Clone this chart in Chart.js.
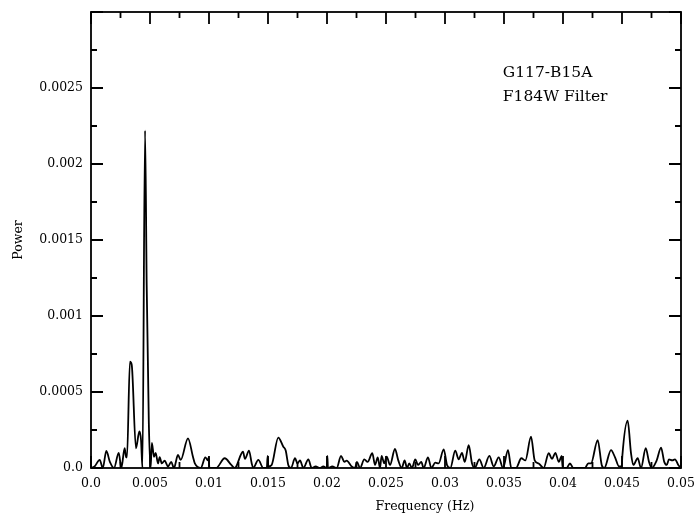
<!DOCTYPE html>
<html>
<head>
<meta charset="utf-8">
<script src="https://cdn.jsdelivr.net/npm/chart.js@4.4.1/dist/chart.umd.min.js"></script>
<style>
  html, body { margin: 0; padding: 0; background: #ffffff; }
  #wrap { width: 695px; height: 519px; }
</style>
</head>
<body>
<div id="wrap"><canvas id="c" width="695" height="519"></canvas></div>
<script>
// ---- Data ----
const freqHz = [
  0, 0.0003, 0.00074, 0.001, 0.0013, 0.0016, 0.00195, 0.00235, 0.00257, 0.00285,
  0.00298, 0.00305, 0.0033, 0.00345, 0.00381, 0.0041, 0.00424, 0.00436, 0.00458, 0.00472,
  0.0049, 0.00505, 0.00516, 0.00534, 0.00548, 0.00568, 0.00582, 0.006, 0.00624, 0.00653,
  0.0068, 0.00703, 0.00737, 0.0076, 0.00822, 0.00864, 0.0088, 0.0093, 0.00969, 0.0099,
  0.00998, 0.01003, 0.0106, 0.01133, 0.01189, 0.01218, 0.01288, 0.01305, 0.01339, 0.01362,
  0.01375, 0.01418, 0.0146, 0.0149, 0.01497, 0.01503, 0.01531, 0.01587, 0.0163, 0.0165,
  0.01672, 0.01695, 0.01729, 0.0175, 0.01771, 0.018, 0.01842, 0.0187, 0.01904, 0.0194,
  0.01969, 0.01998, 0.02003, 0.02008, 0.02045, 0.02082, 0.02119, 0.02147, 0.02167, 0.02209,
  0.02237, 0.02254, 0.0228, 0.02316, 0.02344, 0.02384, 0.02407, 0.0243, 0.02449, 0.02463,
  0.02485, 0.02506, 0.02534, 0.02576, 0.02604, 0.02633, 0.02658, 0.02678, 0.02697, 0.0272,
  0.02748, 0.02771, 0.02799, 0.02819, 0.02856, 0.02884, 0.02918, 0.02946, 0.02989, 0.03017,
  0.03045, 0.03087, 0.03116, 0.03144, 0.03167, 0.03201, 0.03229, 0.03252, 0.03291, 0.03328,
  0.03376, 0.03413, 0.03455, 0.03492, 0.03534, 0.03562, 0.03602, 0.03647, 0.03681, 0.03729,
  0.0376, 0.03794, 0.03836, 0.03879, 0.03907, 0.03935, 0.03965, 0.03989, 0.03997, 0.04031,
  0.04059, 0.04087, 0.04144, 0.04186, 0.04214, 0.04237, 0.04294, 0.04328, 0.0435, 0.04407,
  0.04441, 0.04475, 0.04498, 0.04503, 0.04548, 0.04576, 0.04596, 0.04633, 0.04661, 0.04701,
  0.04729, 0.04752, 0.04794, 0.04831, 0.04858, 0.04879, 0.04898, 0.04926, 0.04949, 0.04977,
  0.05
];
const power = [
  0, 0.00001, 0.000053, 0.0, 0.000112, 0.00004, 0.0, 0.0001, 0.0, 0.00013,
  0.00007, 0.00007, 0.0007, 0.00068, 0.00013, 0.00024, 0.000184, 0.0, 0.00222, 0.0012,
  0.0003, 0.0, 0.000165, 0.000074, 0.0001, 0.00003, 0.000072, 0.00003, 0.000048, 0.00001,
  0.00004, 0.0, 0.000086, 0.000053, 0.000195, 0.000074, 0.00003, 0.0, 0.00007, 0.00005,
  0.00007, 0.0, 0.0, 0.000064, 0.00002, 0.0, 0.000107, 0.00006, 0.000114, 0.00003,
  0.0, 0.000053, 0.0, 0.0, 0.00008, 0.00001, 0.00002, 0.0002, 0.00014, 0.000115,
  0.00002, 0.0, 0.000064, 0.00003, 0.00005, 0.0, 0.000057, 0.0, 0.00001, 0.0,
  0.00001, 0.0, 0.00008, 0.0, 0.00001, 0.0, 0.00008, 0.00004, 0.000048, 0.00001,
  0.0, 0.00004, 0.0, 0.000057, 0.00004, 0.000097, 0.00002, 0.00007, 0.0, 0.00008,
  0.00003, 0.000075, 0.00002, 0.000125, 0.00005, 0.0, 0.00005, 0.0, 0.00003, 0.0,
  0.000057, 0.00002, 0.00004, 0.0, 0.00007, 0.0, 0.000035, 0.00003, 0.000123, 0.00002,
  0.0, 0.000114, 0.000057, 0.0001, 0.00004, 0.00015, 0.00003, 0.0, 0.000057, 0.0,
  0.00008, 0.00001, 0.00007, 0.0, 0.000118, 0.0, 0.0, 0.000064, 0.00005, 0.000206,
  0.00005, 0.00003, 0.0, 0.000097, 0.00006, 0.0001, 0.00004, 0.00008, 0.0, 0.0,
  0.00003, 0.0, 0.0, 0.0, 0.00003, 0.00003, 0.000184, 0.00002, 0.0, 0.000118,
  0.00007, 0.00001, 0.00001, 0.00008, 0.000311, 0.0001, 0.00002, 0.000064, 0.0, 0.00013,
  0.00004, 0.0, 0.00005, 0.000134, 0.00004, 0.00002, 0.000057, 0.00005, 0.000057, 0.00002,
  0.0
];

const xTickValues = [0, 0.005, 0.01, 0.015, 0.02, 0.025, 0.03, 0.035, 0.04, 0.045, 0.05];
const xTickLabels = ['0.0', '0.005', '0.01', '0.015', '0.02', '0.025', '0.03', '0.035', '0.04', '0.045', '0.05'];
const xMinorTicks = [0.0025, 0.0075, 0.0125, 0.0175, 0.0225, 0.0275, 0.0325, 0.0375, 0.0425, 0.0475];
const yTickValues = [0, 0.0005, 0.001, 0.0015, 0.002, 0.0025, 0.003];
const yTickLabels = ['0.0', '0.0005', '0.001', '0.0015', '0.002', '0.0025', ''];
const yMinorTicks = [0.00025, 0.00075, 0.00125, 0.00175, 0.00225, 0.00275];
const annotationLines = ['G117-B15A', 'F184W Filter'];
const xAxisTitle = 'Frequency (Hz)';

const points = freqHz.map((f, i) => ({ x: f, y: power[i] }));
const FONT = "'DejaVu Serif', 'Liberation Serif', serif";

const framePlugin = {
  id: 'frame',
  afterDraw(chart) {
    const { ctx, chartArea: a, scales } = chart;
    const xs = scales.x, ys = scales.y;
    ctx.save();
    ctx.strokeStyle = '#000';
    ctx.lineWidth = 1.8;
    ctx.strokeRect(a.left, a.top, a.right - a.left, a.bottom - a.top);
    const drawX = (vals, len) => vals.forEach(v => {
      const px = xs.getPixelForValue(v);
      ctx.beginPath();
      ctx.moveTo(px, a.bottom); ctx.lineTo(px, a.bottom - len);
      ctx.moveTo(px, a.top); ctx.lineTo(px, a.top + len);
      ctx.stroke();
    });
    const drawY = (vals, len) => vals.forEach(v => {
      const py = ys.getPixelForValue(v);
      ctx.beginPath();
      ctx.moveTo(a.left, py); ctx.lineTo(a.left + len, py);
      ctx.moveTo(a.right, py); ctx.lineTo(a.right - len, py);
      ctx.stroke();
    });
    drawX(xTickValues, 12); drawX(xMinorTicks, 6);
    drawY(yTickValues, 12); drawY(yMinorTicks, 6);
    ctx.fillStyle = '#000';
    ctx.textBaseline = 'middle';
    // x-axis title (placed right of centre, as in the reference)
    ctx.font = "12.5px " + FONT;
    ctx.textAlign = 'center';
    ctx.fillText(xAxisTitle, xs.getPixelForValue(0.0283), a.bottom + 39);
    // annotation
    ctx.font = "15.5px " + FONT;
    ctx.textAlign = 'left';
    const tx = xs.getPixelForValue(0.0349);
    const ty = ys.getPixelForValue(0.0026);
    ctx.fillText(annotationLines[0], tx, ty);
    ctx.fillText(annotationLines[1], tx, ty + 24);
    ctx.restore();
  }
};

new Chart(document.getElementById('c'), {
  type: 'line',
  data: {
    datasets: [{
      data: points,
      borderColor: '#000',
      borderWidth: 1.8,
      pointRadius: 0,
      fill: false,
      cubicInterpolationMode: 'monotone'
    }]
  },
  options: {
    responsive: false,
    animation: false,
    devicePixelRatio: 1,
    layout: { padding: { top: 12, right: 14, left: 0, bottom: 0 } },
    plugins: { legend: { display: false }, tooltip: { enabled: false } },
    scales: {
      x: {
        type: 'linear', min: 0, max: 0.05,
        afterBuildTicks: s => { s.ticks = xTickValues.map(v => ({ value: v })); },
        afterFit: s => { s.height = 51; s.paddingLeft = 0; s.paddingRight = 0; },
        grid: { display: false, drawTicks: false },
        border: { display: false },
        ticks: {
          autoSkip: false, maxRotation: 0, padding: 8, color: '#000',
          font: { family: FONT, size: 12.5 },
          callback: (v, i) => xTickLabels[i]
        },
        title: { display: false }
      },
      y: {
        type: 'linear', min: 0, max: 0.003,
        afterBuildTicks: s => { s.ticks = yTickValues.map(v => ({ value: v })); },
        afterFit: s => { s.width = 91; s.paddingTop = 0; s.paddingBottom = 0; },
        grid: { display: false, drawTicks: false },
        border: { display: false },
        ticks: {
          autoSkip: false, padding: 8, color: '#000',
          font: { family: FONT, size: 12.5 },
          callback: (v, i) => yTickLabels[i]
        },
        title: {
          display: true, text: 'Power', color: '#000',
          font: { family: FONT, size: 12.5 },
          padding: { top: 11, bottom: 0 }
        }
      }
    }
  },
  plugins: [framePlugin]
});
</script>
</body>
</html>
